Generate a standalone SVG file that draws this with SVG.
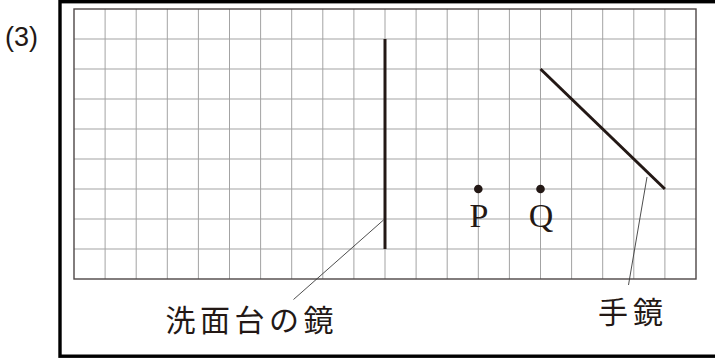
<svg xmlns="http://www.w3.org/2000/svg" width="715" height="358" viewBox="0 0 715 358">
<style>
.grid{stroke:#a3a3a3;stroke-width:1;fill:none}
.gborder{stroke:#4e4747;stroke-width:1.4;fill:none}
.mirror{stroke:#231815;stroke-width:3;stroke-linecap:butt;fill:none}
.leader{stroke:#3a3a3a;stroke-width:0.9;fill:none}
.dot{fill:#231815}
.jp{font-family:"Noto Sans CJK JP","Noto Sans CJK SC",sans-serif;font-size:30px;fill:#231815}
.lat{font-family:"Liberation Serif",serif;font-size:34px;fill:#231815}
.num{font-family:"Liberation Sans",sans-serif;font-size:27px;fill:#231815}
</style>
<rect width="715" height="358" fill="#ffffff"/>
<g id="frame">
<rect x="60" y="1.7" width="670" height="354.5" fill="none" stroke="#000" stroke-width="3.4"/>
</g>
<text id="num" class="num" x="5" y="46">(3)</text>
<g id="grid">
<path class="grid" d="M105.1 9V279M136.2 9V279M167.3 9V279M198.4 9V279M229.5 9V279M260.6 9V279M291.7 9V279M322.8 9V279M353.9 9V279M385 9V279M416.1 9V279M447.2 9V279M478.3 9V279M509.4 9V279M540.5 9V279M571.6 9V279M602.7 9V279M633.8 9V279M664.9 9V279M74 39H696M74 69H696M74 99H696M74 129H696M74 159H696M74 189H696M74 219H696M74 249H696"/>
<rect class="gborder" x="74" y="9" width="622" height="270"/>
</g>
<g id="connectors">
<line class="leader" x1="383.5" y1="220" x2="293.5" y2="299.5"/>
<line class="leader" x1="647" y1="177" x2="628.5" y2="285"/>
</g>
<g id="sink-mirror">
<line class="mirror" x1="385" y1="39" x2="385" y2="249"/>
</g>
<g id="hand-mirror">
<line class="mirror" x1="540.5" y1="69" x2="664.9" y2="189"/>
</g>
<g id="point-P">
<circle class="dot" cx="478.3" cy="189" r="4.3"/>
<text class="lat" x="479" y="227" text-anchor="middle">P</text>
</g>
<g id="point-Q">
<circle class="dot" cx="540.5" cy="189" r="4.3"/>
<text class="lat" x="541" y="227" text-anchor="middle">Q</text>
</g>
<g id="label-sink">
<text class="jp" x="165.5" y="331" letter-spacing="4.5">洗面台の鏡</text>
</g>
<g id="label-hand">
<text class="jp" x="598" y="323" letter-spacing="5">手鏡</text>
</g>
</svg>
